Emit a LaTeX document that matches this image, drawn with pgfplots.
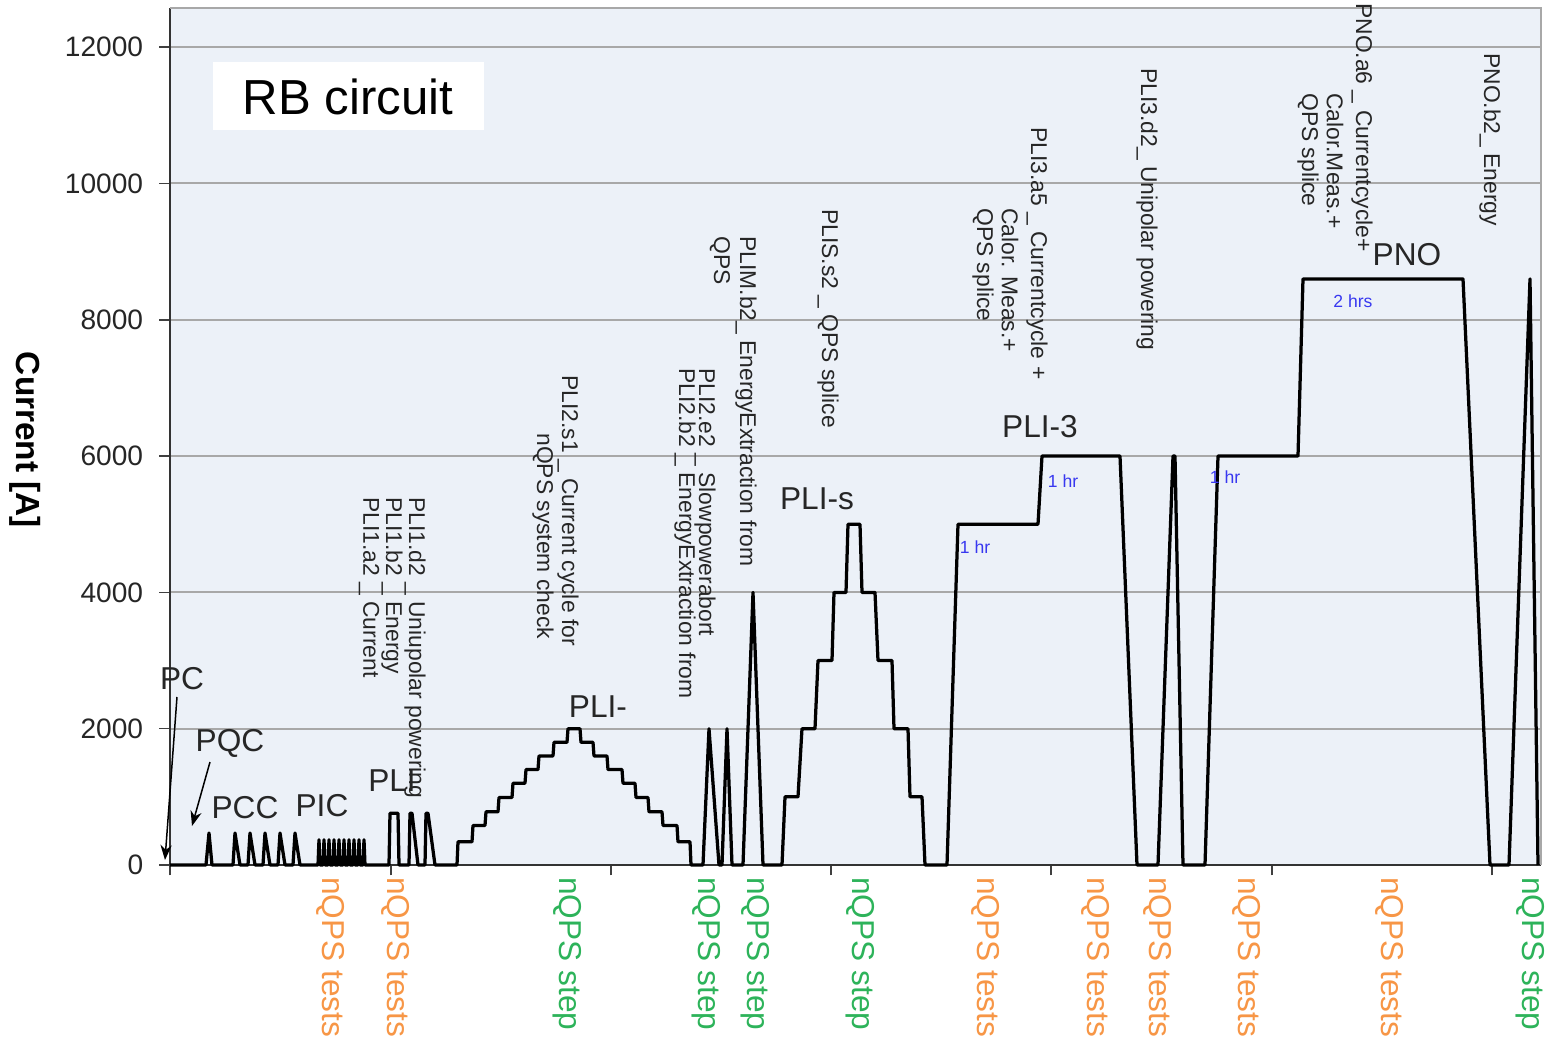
\documentclass[border=0pt]{standalone}
\usepackage{pgfplots}
\pgfplotsset{compat=1.18}
\usepackage{fontspec}
\setmainfont{Liberation Sans}
\usetikzlibrary{arrows.meta}

\definecolor{bgblue}{HTML}{ECF1F8}
\definecolor{gridgray}{HTML}{A8A8A8}
\definecolor{testorange}{HTML}{F79646}
\definecolor{stepgreen}{HTML}{2DB35A}
\definecolor{hrblue}{HTML}{3838F0}
\newcommand{\fs}[2]{\fontsize{#1}{#2}\selectfont}

% x in pixel units from the left axis, y in A
\pgfplotstableread{
x y
0 0
36 0
39 470
42 0
63 0
65 470
70 0
78 0
80 470
85 0
93 0
95 470
100 0
108 0
110 470
115 0
123 0
125 470
130 0
148 0
149 370
150 0
153 0
154 370
155 0
158 0
159 370
160 0
163 0
164 370
165 0
168 0
169 370
170 0
173 0
174 370
175 0
178 0
179 370
180 0
183 0
184 370
185 0
188 0
189 370
190 0
193 0
194 370
195 0
219 0
220 760
228 760
229 0
239 0
240 760
242 760
248 0
255 0
256 760
258 760
265 0
287 0
288 340
302 340
303 580
315 580
316 780
328 780
329 990
342 990
343 1200
355 1200
356 1400
368 1400
369 1600
383 1600
384 1800
397 1800
398 2000
410 2000
411 1800
423 1800
424 1600
437 1600
438 1400
452 1400
453 1200
465 1200
466 990
478 990
479 780
492 780
493 580
507 580
508 340
520 340
521 0
533 0
539 2000
549 0
552 0
557 2000
562 0
573 0
583 4000
593 0
612 0
615 1000
628 1000
632 2000
645 2000
648 3000
662 3000
664 4000
676 4000
678 5000
690 5000
692 4000
705 4000
708 3000
722 3000
724 2000
738 2000
740 1000
752 1000
755 0
777 0
788 5000
868 5000
872 6000
950 6000
967 0
988 0
1003 6000
1005 6000
1013 0
1035 0
1048 6000
1128 6000
1133 8600
1293 8600
1320 0
1339 0
1360 8600
1368 0
}\current

\begin{document}
\begin{tikzpicture}[
  ann/.style={rotate=-90, anchor=west, inner sep=0pt, font=\fs{13}{14}, text=black!85},
  phase/.style={inner sep=0pt, font=\fs{18}{20}, text=black!85},
  tst/.style={rotate=-90, anchor=west, inner sep=0pt, font=\fs{18}{20}, text=testorange},
  stp/.style={rotate=-90, anchor=west, inner sep=0pt, font=\fs{18}{20}, text=stepgreen},
  hr/.style={inner sep=0pt, font=\fs{10}{11}, text=hrblue}
]
\useasboundingbox (-34mm,-36.6mm) rectangle (276.6mm,173mm);
\begin{axis}[
  at={(0,0)}, anchor=south west,
  scale only axis,
  width=274.2mm, height=171.4mm,
  xmin=0, xmax=1371, ymin=0, ymax=12575,
  axis background/.style={fill=bgblue},
  axis lines*=left,
  axis line style={black!80, line width=0.35mm},
  xtick={0,221,441,661,881,1102,1322},
  xticklabels={},
  ytick={0,2000,...,12000},
  scaled y ticks=false,
  tick align=outside,
  major tick length=2.1mm,
  tick style={black!75, line width=0.3mm},
  ymajorgrids,
  grid style={gridgray, line width=0.4mm},
  /pgf/number format/assume math mode=true,
  /pgf/number format/1000 sep={},
  yticklabel style={font=\fs{16}{16}, text=black!85, anchor=east, inner sep=0pt, xshift=-3.2mm},
  clip=false,
]
\draw[gridgray, line width=0.4mm] (rel axis cs:0,1) -- (rel axis cs:1,1) -- (rel axis cs:1,0);
\addplot[black, line width=0.65mm, line join=round] table[x=x, y=y] {\current};

% white title box
\fill[white] (axis cs:43,10785) rectangle (axis cs:314,11782);
\node[font=\fs{28}{30}, inner sep=0pt] at (axis cs:178,11269) {RB circuit};

% y label
\node[rotate=-90, font=\bfseries\fs{19}{20}, inner sep=0pt] at (axis cs:-145,6236) {Current [A]};

% phase names
\node[phase] at (axis cs:12,2729) {PC};
\node[phase] at (axis cs:60,1790) {PQC};
\node[phase] at (axis cs:75,836) {PCC};
\node[phase] at (axis cs:152,866) {PIC};
\node[phase] at (axis cs:222,1233) {PLI};
\node[phase] at (axis cs:428,2318) {PLI-};
\node[phase] at (axis cs:647,5370) {PLI-s};
\node[phase] at (axis cs:870,6427) {PLI-3};
\node[phase] at (axis cs:1237,8950) {PNO};
\draw[-{Stealth[length=3mm]}, line width=0.3mm] (axis cs:7,2465) -- (axis cs:-5,73);
\draw[-{Stealth[length=3mm]}, line width=0.3mm] (axis cs:40,1511) -- (axis cs:22,572);

% test descriptions
\node[ann] at (axis cs:245,5400) {PLI1.d2 \_ Uniupolar powering};
\node[ann] at (axis cs:222,5400) {PLI1.b2 \_ Energy};
\node[ann] at (axis cs:199,5400) {PLI1.a2 \_ Current};
\node[ann] at (axis cs:398,7190) {PLI2.s1 \_ Current cycle for};
\node[ann] at (axis cs:373,6339) {nQPS system check};
\node[ann] at (axis cs:535,7292) {PLI2.e2 \_ Slowpowerabort};
\node[ann] at (axis cs:515,7292) {PLI2.b2 \_ EnergyExtraction from};
\node[ann] at (axis cs:576,9229) {PLIM.b2\_ EnergyExtraction from};
\node[ann] at (axis cs:550,9229) {QPS};
\node[ann] at (axis cs:658,9625) {PLIS.s2 \_ QPS splice};
\node[ann] at (axis cs:867,10829) {PLI3.a5 \_ Currentcycle +};
\node[ann] at (axis cs:840,9640) {Calor. Meas.+};
\node[ann] at (axis cs:813,9640) {QPS splice};
\node[ann] at (axis cs:977,11694) {PLI3.d2\_ Unipolar powering};
\node[ann] at (axis cs:1192,12648) {PNO.a6 \_ Currentcycle+};
\node[ann] at (axis cs:1165,11328) {Calor.Meas.+};
\node[ann] at (axis cs:1138,11328) {QPS splice};
\node[ann] at (axis cs:1320,11914) {PNO.b2\_ Energy};

% durations
\node[hr] at (axis cs:805,4666) {1 hr};
\node[hr] at (axis cs:893,5634) {1 hr};
\node[hr] at (axis cs:1055,5693) {1 hr};
\node[hr] at (axis cs:1183,8276) {2 hrs};

% nQPS labels below the axis
\node[tst] at (axis cs:161,-176) {nQPS tests};
\node[tst] at (axis cs:226,-176) {nQPS tests};
\node[stp] at (axis cs:397,-176) {nQPS step};
\node[stp] at (axis cs:536,-176) {nQPS step};
\node[stp] at (axis cs:585,-176) {nQPS step};
\node[stp] at (axis cs:690,-176) {nQPS step};
\node[tst] at (axis cs:816,-176) {nQPS tests};
\node[tst] at (axis cs:926,-176) {nQPS tests};
\node[tst] at (axis cs:988,-176) {nQPS tests};
\node[tst] at (axis cs:1077,-176) {nQPS tests};
\node[tst] at (axis cs:1220,-176) {nQPS tests};
\node[stp] at (axis cs:1360,-176) {nQPS step};
\end{axis}
\end{tikzpicture}
\end{document}
